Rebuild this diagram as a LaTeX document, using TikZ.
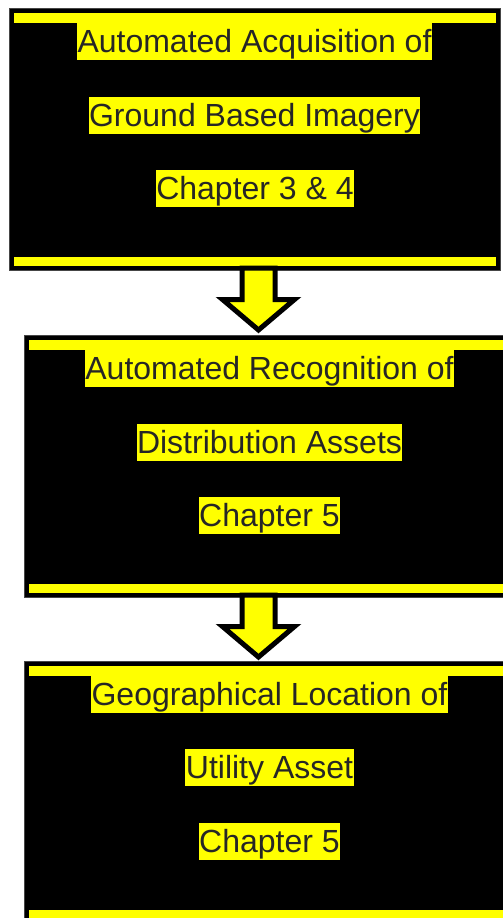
\documentclass[tikz,border=0pt]{standalone}
\usepackage{fontspec}
\setmainfont{Liberation Sans}
\usetikzlibrary{calc}
\definecolor{hiyellow}{RGB}{255,255,0}
\definecolor{inkgray}{RGB}{38,38,38}
\definecolor{edgegray}{RGB}{70,70,70}
\tikzset{
  stagebox/.style={draw=edgegray, line width=1pt, fill=black, rectangle,
    minimum width=491pt, minimum height=262pt, inner sep=0pt},
  stagebar/.style={fill=hiyellow},
  hilite/.style={fill=hiyellow, text=inkgray, inner xsep=0.5pt, inner ysep=0pt,
    text height=29.5pt, text depth=7.5pt,
    font=\fontsize{32}{38}\selectfont},
  blockarrow/.style={draw=black, fill=hiyellow, line width=5pt, miter limit=10, line join=miter}
}
\begin{document}
\begin{tikzpicture}[x=1pt,y=-1pt]
\useasboundingbox (0,0) rectangle (503,918);

% the three stages
\node[stagebox] (b1) at (254.5,139) {};
\node[stagebox] (b2) at (269.5,466) {};
\node[stagebox] (b3) at (269.5,792) {};

% yellow bands along the top and bottom of each stage
\foreach \b in {b1,b2,b3}{
  \fill[stagebar] ([shift={(5,5)}]\b.north west) rectangle ([shift={(-5,15)}]\b.north east);
  \fill[stagebar] ([shift={(5,-14)}]\b.south west) rectangle ([shift={(-5,-5)}]\b.south east);
}

% stage titles
\node[hilite] (t11) at ($(b1.north)+(0,33.5)$) {Automated Acquisition of};
\node[hilite] (t12) at ($(b1.north)+(0,107.5)$) {Ground Based Imagery};
\node[hilite] (t13) at ($(b1.north)+(0.5,180.5)$) {Chapter 3 \& 4};

\node[hilite] (t21) at ($(b2.north)+(0,33.5)$) {Automated Recognition of};
\node[hilite] (t22) at ($(b2.north)+(0,107.5)$) {Distribution Assets};
\node[hilite] (t23) at ($(b2.north)+(0,180.5)$) {Chapter 5};

\node[hilite] (t31) at ($(b3.north)+(0,33.5)$) {Geographical Location of};
\node[hilite] (t32) at ($(b3.north)+(0,106.5)$) {Utility Asset};
\node[hilite] (t33) at ($(b3.north)+(0,180.5)$) {Chapter 5};

% block arrows between the stages
\coordinate (a1) at ($(b1.south)+(4,0)$);
\coordinate (a2) at ($(b2.south)+(-11,0)$);
\foreach \a in {a1,a2}{
  \draw[blockarrow]
    ($(\a)+(-16.5,-2.5)$) -- ($(\a)+(16.5,-2.5)$) -- ($(\a)+(16.5,29)$)
    -- ($(\a)+(36,29)$) -- ($(\a)+(0,59.5)$) -- ($(\a)+(-36,29)$)
    -- ($(\a)+(-16.5,29)$) -- cycle;
}
\end{tikzpicture}
\end{document}
